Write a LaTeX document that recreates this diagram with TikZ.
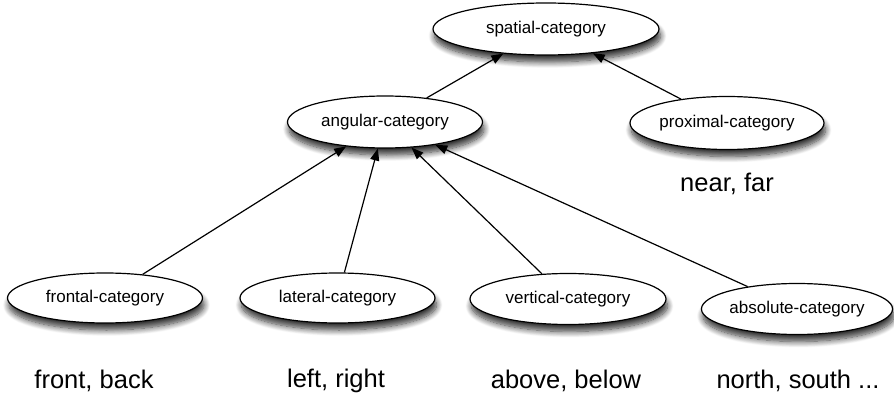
\documentclass[tikz,border=0pt]{standalone}
\usepackage{fontspec}
\setmainfont{Liberation Sans}
\usetikzlibrary{shapes.geometric,shadows.blur,arrows.meta}
\tikzset{
  cat/.style={ellipse, draw=black, line width=1.2pt, fill=white, inner sep=0pt,
    font=\fontsize{17}{20}\selectfont,
    blur shadow={shadow xshift=1.5pt, shadow yshift=-7pt, shadow blur steps=10, shadow blur radius=6pt, shadow opacity=80}},
  lbl/.style={font=\fontsize{25.5}{30}\selectfont, inner sep=0pt},
  arr/.style={draw=black, line width=1.2pt, -{Triangle[length=12pt,width=9pt]}}
}
\begin{document}
\begin{tikzpicture}[x=1pt,y=-1pt]
\useasboundingbox (0,0) rectangle (894,398);
\node[cat, minimum width=226pt, minimum height=52pt] (spa) at (546,29) {spatial-category};
\node[cat, minimum width=195pt, minimum height=52pt] (ang) at (385,122) {angular-category};
\node[cat, minimum width=194pt, minimum height=53pt] (pro) at (727,123) {proximal-category};
\node[cat, minimum width=195pt, minimum height=50pt] (fro) at (105,298) {frontal-category};
\node[cat, minimum width=195pt, minimum height=50pt] (lat) at (337.5,298) {lateral-category};
\node[cat, minimum width=196pt, minimum height=51pt] (ver) at (568,299) {vertical-category};
\node[cat, minimum width=191pt, minimum height=51pt] (abs) at (797,309) {absolute-category};
\draw[arr] (ang) -- (spa);
\draw[arr] (pro) -- (spa);
\draw[arr] (fro) -- (ang);
\draw[arr] (lat) -- (ang);
\draw[arr] (ver) -- (ang);
\draw[arr] (abs) -- (ang);
\node[lbl] (nf) at (727,184) {near, far};
\node[lbl] (fb) at (94,381) {front, back};
\node[lbl] (lr) at (336,381) {left, right};
\node[lbl] (ab) at (566,381) {above, below};
\node[lbl] (ns) at (798,381) {north, south ...};
\end{tikzpicture}
\end{document}
